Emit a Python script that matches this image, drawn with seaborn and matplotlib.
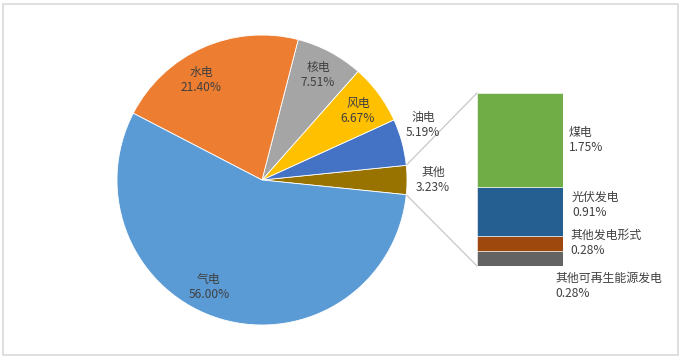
import matplotlib
matplotlib.use("Agg")
import matplotlib.pyplot as plt
import seaborn as sns
import numpy as np
from matplotlib.patches import Rectangle

# ---- data ----
pie_labels = ["其他", "油电", "风电", "核电", "水电", "气电"]
pie_values = [3.23, 5.19, 6.67, 7.51, 21.40, 56.00]
pie_colors = ["#997300", "#4472c4", "#ffc000", "#a5a5a5", "#ed7d31", "#5b9bd5"]

bar_labels = ["其他可再生能源发电", "其他发电形式", "光伏发电", "煤电"]
bar_values = [0.28, 0.28, 0.91, 1.75]
bar_colors = ["#636363", "#9e480e", "#255e91", "#70ad47"]

# ---- layout (pixels, y from top) ----
W, H = 683, 360
cx, cy, R = 262, 180, 145
bar_box = (477, 93, 563, 266)  # left, top, right, bottom
pie_label_pos = {"其他": (433, 180), "油电": (423, 125), "风电": (358, 111),
                 "核电": (318, 75), "水电": (201, 80), "气电": (209, 287)}
bar_label_pos = {"煤电": (569, 140), "光伏发电": (572, 205),
                 "其他发电形式": (570, 243), "其他可再生能源发电": (555, 286)}

sns.set_theme(style="white")
plt.rcParams['font.family'] = ['Noto Sans CJK SC', 'DejaVu Sans']
txt_color = "#404040"
fs = 8.6

fig = plt.figure(figsize=(W / 100, H / 100), dpi=100)
fig.patch.set_facecolor("white")
ax = fig.add_axes([0, 0, 1, 1])

start = -pie_values[0] / sum(pie_values) * 360 / 2
ax.pie(pie_values, colors=pie_colors, startangle=start, counterclock=True,
       center=(cx, H - cy), radius=R,
       wedgeprops=dict(edgecolor="white", linewidth=0.6))
ax.set_xlim(0, W)
ax.set_ylim(0, H)
ax.set_aspect("equal")
ax.axis("off")

for lab, val in zip(pie_labels, pie_values):
    x, y = pie_label_pos[lab]
    ax.text(x, H - y, f"{lab}\n{val:.2f}%", ha="center", va="center",
            fontsize=fs, color=txt_color, linespacing=1.15)

# connector lines from the "其他" slice to the bar
half = np.deg2rad(pie_values[0] / sum(pie_values) * 360 / 2)
l, t, rr, b = bar_box
p_up = (cx + R * np.cos(half), H - cy + R * np.sin(half))
p_dn = (cx + R * np.cos(half), H - cy - R * np.sin(half))
ax.plot([p_up[0], l], [p_up[1], H - t], color="#c8c8c8", lw=0.9, zorder=0)
ax.plot([p_dn[0], l], [p_dn[1], H - b], color="#c8c8c8", lw=0.9, zorder=0)

# border
ax.add_patch(Rectangle((3, H - 355), 675, 351, fill=False, ec="#d9d9d9", lw=1.2))

# stacked bar
bax = fig.add_axes([l / W, (H - b) / H, (rr - l) / W, (b - t) / H])
bottoms = np.concatenate([[0], np.cumsum(bar_values)[:-1]])
bax.bar([0] * len(bar_values), bar_values, bottom=bottoms, width=1.0,
        color=bar_colors, edgecolor="white", linewidth=0.4)
bax.set_xlim(-0.5, 0.5)
bax.set_ylim(0, sum(bar_values))
bax.axis("off")

for lab, val in zip(bar_labels, bar_values):
    x, y = bar_label_pos[lab]
    ax.text(x, H - y, f"{lab}\n{val:.2f}%", ha="left", va="center",
            fontsize=fs, color=txt_color, linespacing=1.15)

fig.savefig("out.png", dpi=100, facecolor="white")
